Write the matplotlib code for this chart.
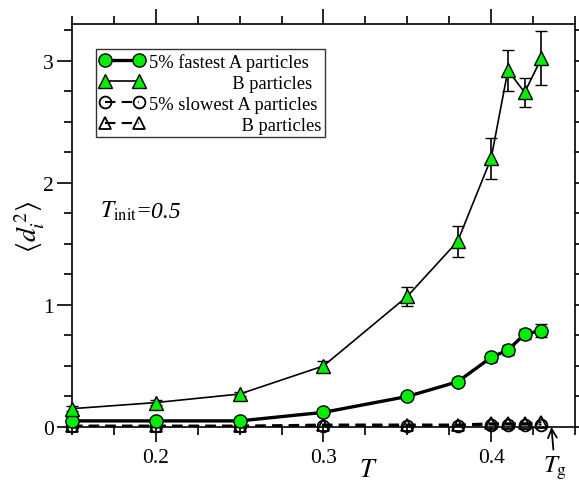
import matplotlib
matplotlib.use("Agg")
import matplotlib.pyplot as plt
from matplotlib.ticker import MultipleLocator

plt.rcParams["font.family"] = ["Liberation Serif", "DejaVu Serif"]
plt.rcParams["mathtext.fontset"] = "stix"

# Temperatures and mean squared displacements
temps = [0.15, 0.20, 0.25, 0.30, 0.35, 0.38, 0.40, 0.41, 0.42, 0.43]
fast_a = [0.05, 0.05, 0.05, 0.12, 0.25, 0.37, 0.57, 0.63, 0.76, 0.79]
fast_a_err = [0.01, 0.01, 0.01, 0.02, 0.02, 0.03, 0.04, 0.04, 0.04, 0.05]
fast_b = [0.15, 0.20, 0.27, 0.50, 1.07, 1.52, 2.20, 2.92, 2.74, 3.02]
fast_b_err = [0.02, 0.02, 0.02, 0.04, 0.08, 0.13, 0.17, 0.17, 0.12, 0.22]
slow_a = [0.01, 0.01, 0.01, 0.01, 0.01, 0.01, 0.02, 0.02, 0.02, 0.02]
slow_b = [0.01, 0.01, 0.01, 0.02, 0.02, 0.02, 0.03, 0.03, 0.03, 0.04]

t_glass = 0.436
green = "#00ee00"

fig = plt.figure(figsize=(5.79, 4.81), dpi=100)
ax = fig.add_axes([0.1244, 0.1102, 0.8686, 0.8378])

h1 = ax.errorbar(temps, fast_a, yerr=fast_a_err, fmt="-o", color="black",
                 lw=2.4, ms=9.5, mfc=green, mec="black", mew=1.0,
                 ecolor="black", elinewidth=1.2, capsize=4, capthick=1.2,
                 zorder=4, clip_on=False)
h2 = ax.errorbar(temps, fast_b, yerr=fast_b_err, fmt="-^", color="black",
                 lw=1.2, ms=10, mfc=green, mec="black", mew=1.0,
                 ecolor="black", elinewidth=1.2, capsize=4, capthick=1.2,
                 zorder=4, clip_on=False)
h3, = ax.plot(temps, slow_a, "--o", color="black", lw=1.5, ms=8.5,
              mfc="none", mec="black", mew=1.3, dashes=(5, 3),
              zorder=3, clip_on=False)
h4, = ax.plot(temps, slow_b, "--^", color="black", lw=1.5, ms=8.5,
              mfc="none", mec="black", mew=1.3, dashes=(5, 3),
              zorder=3, clip_on=False)

ax.set_xlim(0.15, 0.45)
ax.set_ylim(0, 3.3)
ax.xaxis.set_minor_locator(MultipleLocator(0.025))
ax.yaxis.set_major_locator(MultipleLocator(1))
ax.yaxis.set_minor_locator(MultipleLocator(0.25))
ax.set_xticks([0.2, 0.3, 0.4])
ax.set_xticklabels(["0.2", "0.3", "0.4"])
ax.tick_params(which="both", direction="out", top=True, right=True,
               width=1.2, labelsize=15.5)
ax.tick_params(axis="x", which="major", pad=4)
ax.tick_params(axis="y", which="major", pad=2)
ax.tick_params(which="major", length=11)
ax.tick_params(which="minor", length=5.5)
for sp in ax.spines.values():
    sp.set_linewidth(1.2)

ax.set_xlabel("$T$", fontsize=19, va="center")
ax.xaxis.set_label_coords(0.59, -0.106)
ax.set_ylabel(r"$\langle d_i^{\,2}\rangle$", fontsize=20, va="center")
ax.yaxis.set_label_coords(-0.083, 0.5)

ax.text(0.1665, 1.72, r"$T_{\mathrm{init}}$", fontsize=17, va="baseline")
ax.text(0.1877, 1.72, "=0.5", fontsize=17, fontstyle="italic",
        va="baseline")

ax.annotate(r"$T_{\mathrm{g}}$", xy=(t_glass, 0), xycoords="data",
            xytext=(t_glass + 0.002, -0.33), textcoords="data",
            ha="center", va="center", fontsize=18, annotation_clip=False,
            arrowprops=dict(arrowstyle="->", lw=1.3, color="black",
                            shrinkA=1, shrinkB=0, mutation_scale=16))

leg = ax.legend([h1[0], h2[0], h3, h4],
                ["5% fastest A particles",
                 " " * 18 + "B particles",
                 "5% slowest A particles",
                 " " * 20 + "B particles"],
                loc="upper left", bbox_to_anchor=(0.048, 0.938),
                numpoints=2, handlelength=2.4, handletextpad=0.25,
                fontsize=13.3, frameon=True, fancybox=False,
                borderpad=0.2, labelspacing=0.22, borderaxespad=0)
leg.get_frame().set_edgecolor("black")
leg.get_frame().set_linewidth(1.0)

fig.savefig("out.png", dpi=100)
